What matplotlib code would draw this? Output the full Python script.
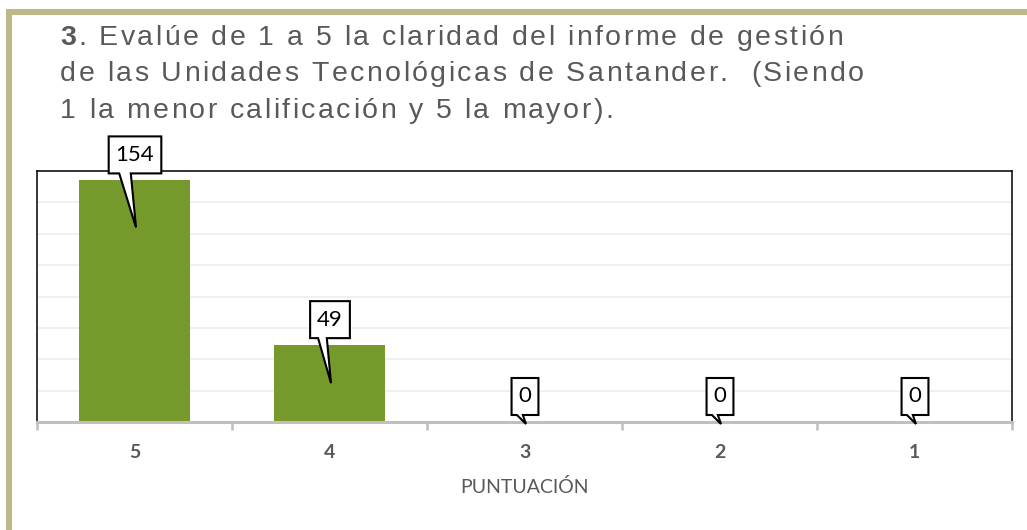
import matplotlib
matplotlib.use('Agg')
import matplotlib.pyplot as plt
import numpy as np
from matplotlib.patches import Polygon, Rectangle
from matplotlib.transforms import IdentityTransform
from matplotlib.font_manager import FontProperties, findfont
from matplotlib.ft2font import FT2Font

# ---------------- data ----------------
categories = ['5', '4', '3', '2', '1']
values = [154, 49, 0, 0, 0]
title_lines = [
    '3. Evalúe de 1 a 5 la claridad del informe de gestión',
    'de las Unidades Tecnológicas de Santander.  (Siendo',
    '1 la menor calificación y 5 la mayor).',
]
xlabel_text = 'PUNTUACIÓN'

# ---------------- style ----------------
W, H, DPI = 1027, 530, 100
frame_color = '#bdb88a'
bar_color = '#76992b'
text_gray = '#595959'
axis_gray = '#bfbfbf'
grid_gray = '#eeeeee'
pointer_len = [47, 38, 2, 2, 2]   # callout pointer depth (px)
label_font = 'Lato'

fig = plt.figure(figsize=(W / DPI, H / DPI), dpi=DPI)
fig.patch.set_facecolor('white')

# outer decorative frame (left and top)
fig.add_artist(Rectangle((6 / W, 0), 6 / W, 1 - 9 / H, transform=fig.transFigure,
                         color=frame_color, lw=0, zorder=0))
fig.add_artist(Rectangle((6 / W, 1 - 15 / H), 1 - 6 / W, 6 / H, transform=fig.transFigure,
                         color=frame_color, lw=0, zorder=0))

# ---------------- title with letter spacing ----------------
_font_cache = {}


def _font(weight, size):
    key = (weight, size)
    if key not in _font_cache:
        fp = FontProperties(family='Liberation Sans', weight=weight, size=size)
        f = FT2Font(findfont(fp))
        f.set_size(size, DPI)
        _font_cache[key] = (fp, f)
    return _font_cache[key]


def draw_spaced(x0, y_base, text, size, spacing, color, bold_first=0):
    xpos = x0
    for i, ch in enumerate(text):
        weight = 'bold' if i < bold_first else 'normal'
        fp, f = _font(weight, size)
        adv = f.load_char(ord(ch)).linearHoriAdvance / 65536
        if ch != ' ':
            fig.text(xpos / W, 1 - y_base / H, ch, fontproperties=fp, color=color,
                     va='baseline', ha='left')
        xpos += adv + spacing


title_size = 20.5
title_spacing = 2.45
for k, line in enumerate(title_lines):
    draw_spaced(60, 45 + 36.3 * k, line, title_size, title_spacing, text_gray,
                bold_first=1 if k == 0 else 0)

# ---------------- axes ----------------
ax = fig.add_axes([37 / W, (H - 422) / H, (1012 - 37) / W, (422 - 171) / H])
x = np.arange(len(categories))
ax.bar(x, values, width=0.565, color=bar_color, zorder=2)
ax.set_xlim(-0.5, len(categories) - 0.5)
ax.set_ylim(0, 160)
ax.set_yticks(np.arange(0, 161, 20))
ax.yaxis.grid(True, color=grid_gray, lw=1.2, zorder=0)
ax.set_axisbelow(True)
ax.tick_params(axis='y', left=False, labelleft=False)

for s in ['left', 'top', 'right']:
    ax.spines[s].set_color('black')
    ax.spines[s].set_linewidth(1.1)
ax.spines['bottom'].set_color(axis_gray)
ax.spines['bottom'].set_linewidth(2.2)

ax.set_xticks(np.arange(-0.5, len(categories), 1.0))
ax.set_xticklabels([])
ax.tick_params(axis='x', which='major', length=6, width=1.8, color=axis_gray, direction='out')
ax.set_xticks(x, minor=True)
ax.set_xticklabels(categories, minor=True, fontfamily=label_font, fontweight='bold',
                   fontsize=14, color=text_gray)
ax.tick_params(axis='x', which='minor', length=0, pad=16)
ax.set_xlabel(xlabel_text, fontfamily=label_font, fontsize=14, color=text_gray, labelpad=12)

# ---------------- callouts ----------------
renderer = fig.canvas.get_renderer()
gap, box_h, pad = 7, 37, 7
for i, v in enumerate(values):
    axd, ayd = ax.transData.transform((x[i], v))
    t = fig.text(axd, 0, str(v), transform=IdentityTransform(), fontfamily=label_font,
                 fontsize=16, color='black', ha='center', va='center', zorder=11)
    tw = t.get_window_extent(renderer).width
    bw = tw + 2 * pad
    cx = axd + 0.5
    yb = ayd + gap
    yt = yb + box_h
    t.set_position((cx, (yb + yt) / 2))
    tipx = axd + 1.5
    tipy = ayd - pointer_len[i]
    verts = [
        (cx - bw / 2, yb),
        (cx - 0.3 * bw, yb),
        (tipx, tipy),
        (cx - 0.08 * bw, yb),
        (cx + bw / 2, yb),
        (cx + bw / 2, yt),
        (cx - bw / 2, yt),
    ]
    poly = Polygon(verts, closed=True, transform=IdentityTransform(), facecolor='white',
                   edgecolor='black', lw=1.5, joinstyle='miter', zorder=10)
    fig.add_artist(poly)

fig.savefig('out.png', dpi=DPI, facecolor='white')
